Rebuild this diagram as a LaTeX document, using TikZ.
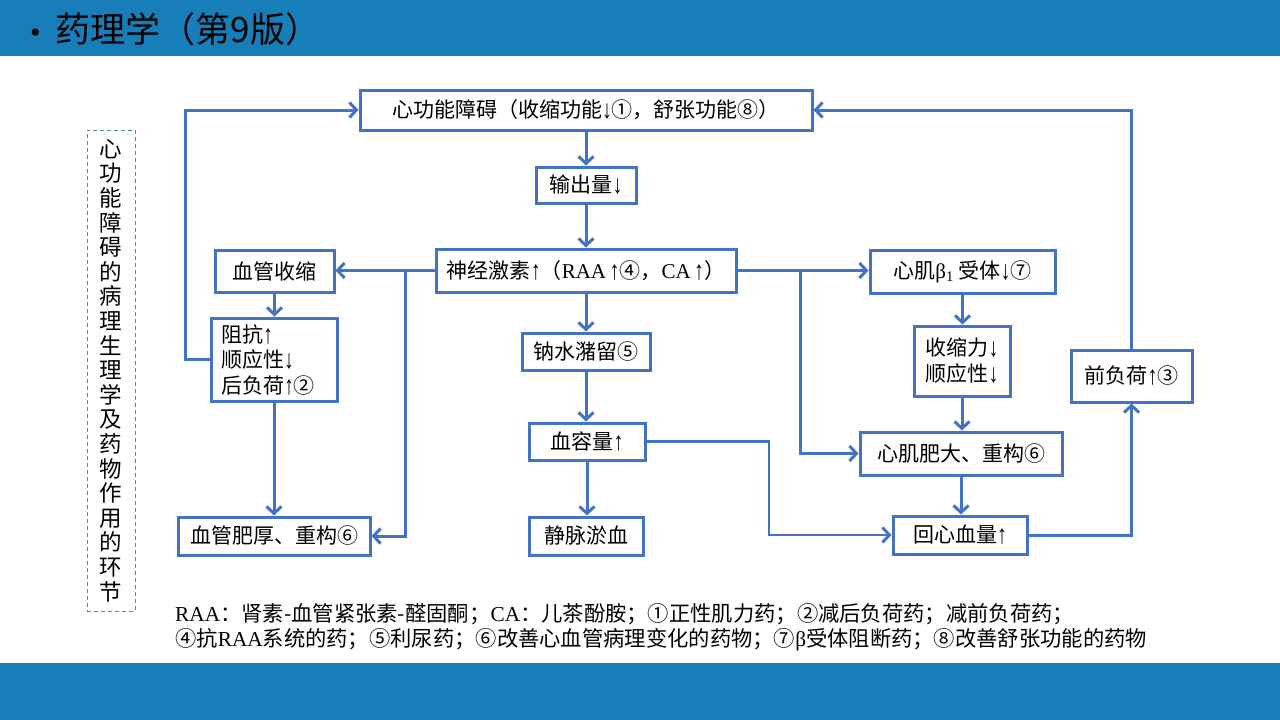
\documentclass[tikz,border=0pt]{standalone}
\usepackage{fontspec}
\usepackage{graphicx}
\setmainfont{Liberation Serif}
\newfontfamily\cjk{Noto Sans CJK SC}
\usetikzlibrary{arrows.meta}
\definecolor{lineblue}{RGB}{68,114,196}
\definecolor{bannerblue}{RGB}{23,126,185}
\definecolor{dashc}{RGB}{70,140,165}
\newcommand\myup{{\rmfamily\raisebox{-1pt}{\scalebox{0.95}[1.25]{↑}}}}
\newcommand\mydn{{\rmfamily\raisebox{-1pt}{\scalebox{0.95}[1.25]{↓}}}}
\begin{document}
\begin{tikzpicture}[x=1pt,y=-1pt,
  box/.style={draw=lineblue, line width=3pt, fill=white, inner sep=0pt,
    font=\fontsize{21}{25}\selectfont\cjk, align=center},
  conn/.style={draw=lineblue, line width=3pt, line join=miter,
    -{Straight Barb[length=7pt,width=15pt,line width=3pt]}},
  thinconn/.style={conn, line width=2.2pt},
  foot/.style={anchor=west, inner sep=0pt, font=\fontsize{21.3}{26}\selectfont\cjk}]
\useasboundingbox (0,0) rectangle (1280,720);
\fill[white] (0,0) rectangle (1280,720);
% banners
\fill[bannerblue] (0,0) rectangle (1280,56);
\fill[bannerblue] (0,663) rectangle (1280,720);
\node[anchor=west, inner sep=0pt, font=\fontsize{35}{38}\selectfont\cjk] (title) at (30,29)
  {{\rmfamily\fontsize{30}{30}\selectfont •}\hspace{15pt}药理学（第9版）};

% side label
\node[draw=dashc, dash pattern=on 4pt off 3pt, line width=1pt, minimum width=48, minimum height=481,
  inner sep=0pt, align=center, font=\fontsize{22.5}{24.6}\selectfont\cjk] (side) at (111,370.5)
  {心\\功\\能\\障\\碍\\的\\病\\理\\生\\理\\学\\及\\药\\物\\作\\用\\的\\环\\节};

% boxes
\node[box, minimum width=452, minimum height=40] (top) at (586,110)
  {心功能障碍（收缩功能\mydn①，舒张功能⑧）};
\node[box, minimum width=100, minimum height=36] (out) at (586,185) {输出量\mydn};
\node[box, minimum width=300, minimum height=43] (neuro) at (586,270.5)
  {神经激素\myup（{\rmfamily RAA\,}\myup④，{\rmfamily CA\,}\myup）};
\node[box, minimum width=119, minimum height=42] (vaso) at (274.5,271) {血管收缩};
\node[box, minimum height=83, text width=106pt, inner xsep=10pt, align=left,
  font=\fontsize{21}{25.5}\selectfont\cjk] (imp) at (274,359.5)
  {阻抗\myup\\顺应性\mydn\\后负荷\myup②};
\node[box, minimum width=192, minimum height=38] (vthick) at (274,536) {血管肥厚、重构⑥};
\node[box, minimum width=128, minimum height=37] (na) at (586,351.5) {钠水潴留⑤};
\node[box, minimum width=116, minimum height=37] (vol) at (587,441.5) {血容量\myup};
\node[box, minimum width=114, minimum height=38] (ven) at (586,536) {静脉淤血};
\node[box, minimum width=185, minimum height=43] (beta) at (962.5,271.5)
  {心肌{\rmfamily β\textsubscript{1}} 受体\mydn⑦};
\node[box, minimum width=96, minimum height=70, font=\fontsize{21}{26}\selectfont\cjk] (contr) at (962,361)
  {收缩力\mydn\\顺应性\mydn};
\node[box, minimum width=202, minimum height=43] (hyper) at (961,453.5) {心肌肥大、重构⑥};
\node[box, minimum width=134, minimum height=38] (ret) at (960,535) {回心血量\myup};
\node[box, minimum width=121, minimum height=52] (pre) at (1131.5,376) {前负荷\myup③};

% connectors
\coordinate (bl) at (405,270.5);
\coordinate (br) at (800,270.5);
\draw[conn] (top.south) -- (out.north);
\draw[conn] (out.south) -- (neuro.north);
\draw[conn] (neuro.west) -- (neuro.west -| vaso.east);
\draw[conn] (bl) |- (vthick.east);
\draw[conn] (vaso.south) -- (vaso.south |- imp.north);
\draw[conn] (imp.west) -- ++(-24,0) |- (top.west);
\draw[conn] (imp.south) -- (vthick.north);
\draw[conn] (neuro.south) -- (na.north);
\draw[conn] (na.south) -- (na.south |- vol.north);
\draw[conn] (vol.south) -- (vol.south |- ven.north);
\draw[thinconn] (vol.east) -- (769,441.5) |- (ret.west);
\draw[conn] (neuro.east) -- (neuro.east -| beta.west);
\draw[conn] (br) |- (hyper.west);
\draw[conn] (beta.south) -- (beta.south |- contr.north);
\draw[conn] (contr.south) -- (contr.south |- hyper.north);
\draw[conn] (hyper.south) -- (hyper.south |- ret.north);
\draw[conn] (ret.east) -| (pre.south);
\draw[conn] (pre.north) |- (top.east);

% footnote
\node[foot] (fn1) at (175,614)
  {{\rmfamily RAA}：肾素-血管紧张素-醛固酮；{\rmfamily CA}：儿茶酚胺；①正性肌力药；②减后负荷药；减前负荷药；};
\node[foot] (fn2) at (175,640)
  {④抗{\rmfamily RAA}系统的药；⑤利尿药；⑥改善心血管病理变化的药物；⑦{\rmfamily β}受体阻断药；⑧改善舒张功能的药物};
\end{tikzpicture}
\end{document}
